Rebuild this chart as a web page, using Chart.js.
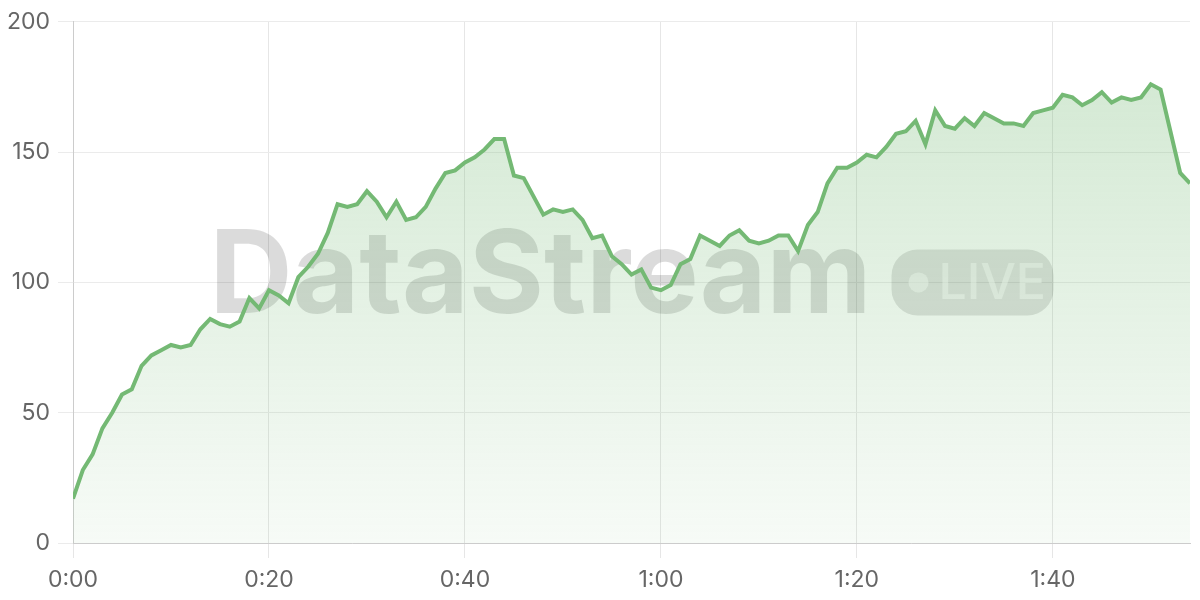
<!DOCTYPE html>
<html>
<head>
<meta charset="utf-8">
<script src="https://cdn.jsdelivr.net/npm/chart.js@4.4.1/dist/chart.umd.min.js"></script>
<style>
  html, body { margin: 0; padding: 0; background: #fff; }
  #wrap { width: 1200px; height: 600px; }
</style>
</head>
<body>
<div id="wrap"><canvas id="chart"></canvas></div>
<script>
// valores por segundo (0:00 .. 1:54)
const values = [
  17, 28, 34, 44, 50, 57, 59, 68, 72, 74,
  76, 75, 76, 82, 86, 84, 83, 85, 94, 90,
  97, 95, 92, 102, 106, 111, 119, 130, 129, 130,
  135, 131, 125, 131, 124, 125, 129, 136, 142, 143,
  146, 148, 151, 155, 155, 141, 140, 133, 126, 128,
  127, 128, 124, 117, 118, 110, 107, 103, 105, 98,
  97, 99, 107, 109, 118, 116, 114, 118, 120, 116,
  115, 116, 118, 118, 112, 122, 127, 138, 144, 144,
  146, 149, 148, 152, 157, 158, 162, 153, 166, 160,
  159, 163, 160, 165, 163, 161, 161, 160, 165, 166,
  167, 172, 171, 168, 170, 173, 169, 171, 170, 171,
  176, 174, 158, 142, 138
];
const xTicks = [0, 20, 40, 60, 80, 100];
const xTickLabels = ["0:00", "0:20", "0:40", "1:00", "1:20", "1:40"];
const yTicks = [0, 50, 100, 150, 200];

const points = values.map((v, i) => ({ x: i, y: v }));

// marca d'água "DataStream • LIVE" atrás da linha
const watermark = {
  id: "watermark",
  beforeDatasetsDraw(chart) {
    const { ctx, chartArea } = chart;
    const cx = (chartArea.left + chartArea.right) / 2;
    const cy = (chartArea.top + chartArea.bottom) / 2;
    ctx.save();
    ctx.font = "bold 115px Inter";
    const textW = ctx.measureText("DataStream").width;
    const pillW = 162, pillH = 66, gap = 20;
    const total = textW + gap + pillW;
    const x0 = cx - total / 2;
    const base = cy + 31;
    ctx.fillStyle = "rgba(0,0,0,0.14)";
    ctx.textBaseline = "alphabetic";
    ctx.fillText("DataStream", x0, base);

    const px = x0 + textW + gap;
    const py = cy - 33;
    ctx.beginPath();
    ctx.roundRect(px, py, pillW, pillH, 26);
    ctx.fillStyle = "rgba(0,0,0,0.12)";
    ctx.fill();
    ctx.fillStyle = "rgba(255,255,255,0.55)";
    ctx.beginPath();
    ctx.arc(px + 27, py + pillH / 2, 10, 0, Math.PI * 2);
    ctx.fill();
    ctx.font = "500 50px Inter";
    ctx.textBaseline = "middle";
    ctx.fillText("LIVE", px + 47, py + pillH / 2 + 2);
    ctx.restore();
  },
};

const ctx = document.getElementById("chart");
new Chart(ctx, {
  type: "line",
  data: {
    datasets: [
      {
        data: points,
        borderColor: "#74b974",
        borderWidth: 4,
        pointRadius: 0,
        tension: 0,
        fill: true,
        backgroundColor(c) {
          const area = c.chart.chartArea;
          if (!area) return "rgba(116,185,116,0.2)";
          const g = c.chart.ctx.createLinearGradient(0, area.top, 0, area.bottom);
          g.addColorStop(0, "rgba(116,185,116,0.34)");
          g.addColorStop(1, "rgba(116,185,116,0.06)");
          return g;
        },
      },
    ],
  },
  options: {
    responsive: true,
    maintainAspectRatio: false,
    animation: false,
    layout: { padding: { top: 18, right: 10, left: 0, bottom: 0 } },
    plugins: {
      legend: { display: false },
      tooltip: { enabled: false },
    },
    scales: {
      x: {
        type: "linear",
        min: 0,
        max: values.length - 1,
        afterBuildTicks(scale) {
          scale.ticks = xTicks.map((v) => ({ value: v }));
        },
        afterFit(scale) {
          scale.height = 57;
        },
        grid: { color: "#e6e6e6", tickLength: 15 },
        border: { color: "#cccccc" },
        ticks: {
          color: "#666",
          font: { family: "Inter", size: 23 },
          padding: 8,
          callback(value) {
            const i = xTicks.indexOf(value);
            return i >= 0 ? xTickLabels[i] : "";
          },
        },
      },
      y: {
        min: 0,
        max: 200,
        afterBuildTicks(scale) {
          scale.ticks = yTicks.map((v) => ({ value: v }));
        },
        afterFit(scale) {
          scale.width = 73;
        },
        grid: { color: "#ebebeb", tickLength: 15 },
        border: { color: "#cccccc" },
        ticks: {
          color: "#666",
          font: { family: "Inter", size: 23 },
          padding: 8,
        },
      },
    },
  },
  plugins: [watermark],
});
</script>
</body>
</html>
